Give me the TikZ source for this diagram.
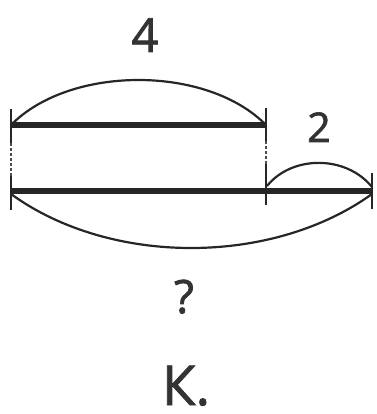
\documentclass[tikz,border=0pt]{standalone}
\usepackage{fontspec}
\setmainfont{Open Sans}
\newfontfamily\semib[FakeBold=1.6]{Open Sans}
\begin{document}
\begin{tikzpicture}[x=1pt,y=-1pt,
  bar/.style={line width=5.5pt,draw=black!85},
  tick/.style={line width=2.4pt,draw=black!85},
  arcline/.style={line width=2.2pt,draw=black!85},
  dash line/.style={line width=1.3pt,draw=black!70,dash pattern=on 3pt off 2pt},
  lbl/.style={text=black!80,inner sep=0pt,anchor=base}]
\useasboundingbox (0,0) rectangle (376,414);
% coordinates
\coordinate (tl) at (11,125);
\coordinate (tr) at (266,125);
\coordinate (bl) at (11,191);
\coordinate (bm) at (266,191);
\coordinate (br) at (372,191);
% bars
\draw[bar] (tl) -- (tr);
\draw[bar] (bl) -- (br);
% ticks
\draw[tick] (11,109) -- (11,143);
\draw[tick] (266,108) -- (266,141);
\draw[tick] (11,176) -- (11,210);
\draw[tick] (266,164) -- (266,205);
\draw[tick] (372,173) -- (372,209);
% dashed connectors
\draw[dash line] (11,143) -- (11,176);
\draw[dash line] (266,141) -- (266,164);
% arcs
\draw[arcline] (tl) .. controls (70,65) and (207,65) .. (tr);
\draw[arcline] (267,186) .. controls (292,155) and (346,155) .. (372,187);
\draw[arcline] (11,194) .. controls (110,266) and (272,266) .. (372,194);
% labels
\node[lbl,font=\fontsize{47}{47}\selectfont\semib] (four) at (145,52) {4};
\node[lbl,font=\fontsize{41}{41}\selectfont\semib] (two) at (319,142) {2};
\node[lbl,font=\fontsize{46}{46}\selectfont\semib] (q) at (184,313) {?};
\node[lbl,font=\fontsize{55}{55}\selectfont\semib] (k) at (186,405) {К.};
\end{tikzpicture}
\end{document}
